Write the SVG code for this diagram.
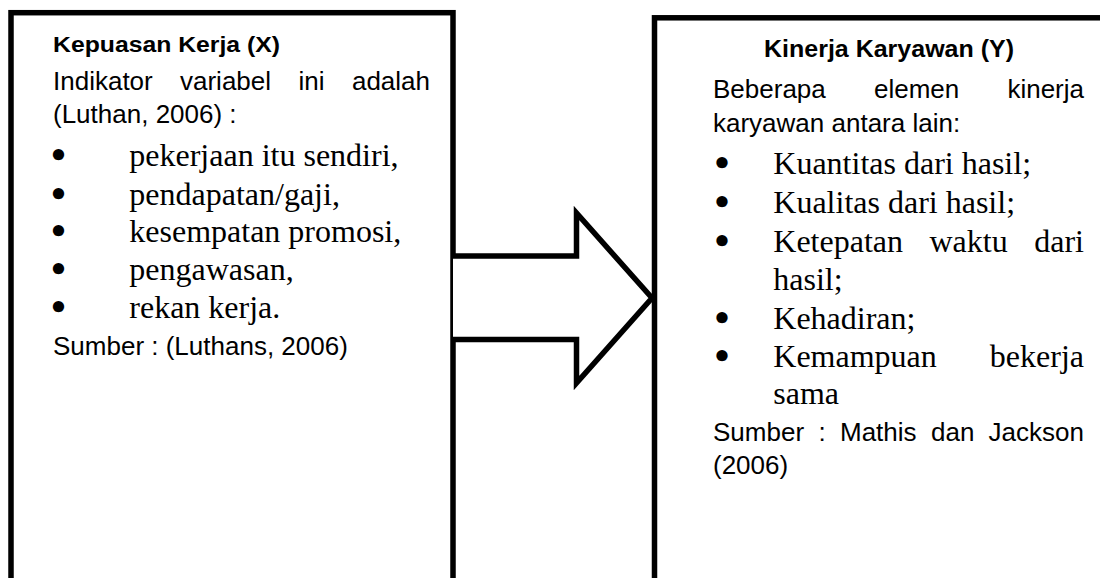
<svg xmlns="http://www.w3.org/2000/svg" width="1100" height="578" viewBox="0 0 1100 578">
<style>
.box{fill:#fff;stroke:#000;stroke-width:5.5}
.arrow{fill:#fff;stroke:#000;stroke-width:5.5;stroke-linejoin:miter;stroke-miterlimit:10}
.h{font-family:"Liberation Sans",Arial,sans-serif;font-weight:bold;font-size:22px;fill:#000}
.h2{font-family:"Liberation Sans",Arial,sans-serif;font-weight:bold;font-size:23px;fill:#000}
.t{font-family:"Liberation Sans",Arial,sans-serif;font-size:26px;fill:#000}
.s{font-family:"Liberation Serif","Times New Roman",serif;font-size:32px;fill:#000}
.b{font-family:"DejaVu Sans",sans-serif;font-size:32px;font-weight:bold;fill:#000;text-anchor:middle}
</style>
<rect width="1100" height="578" fill="#fff"/>
<g id="nodeX">
<rect class="box" x="11" y="12.7" width="442" height="620"/>
<text class="h" x="53" y="52" textLength="227" lengthAdjust="spacingAndGlyphs">Kepuasan Kerja (X)</text>
<text class="t" y="90"><tspan x="53">Indikator</tspan><tspan x="180">variabel</tspan><tspan x="298.5">ini</tspan></text>
<text class="t" x="430" y="90" text-anchor="end">adalah</text>
<text class="t" x="53" y="123">(Luthan, 2006) :</text>
<text class="b" x="58.5" y="167">•</text>
<text class="s" x="129.3" y="166">pekerjaan itu sendiri,</text>
<text class="b" x="58.5" y="205.5">•</text>
<text class="s" x="129.3" y="204.5">pendapatan/gaji,</text>
<text class="b" x="58.5" y="243">•</text>
<text class="s" x="129.3" y="242">kesempatan promosi,</text>
<text class="b" x="58.5" y="281">•</text>
<text class="s" x="129.3" y="280">pengawasan,</text>
<text class="b" x="58.5" y="319">•</text>
<text class="s" x="129.3" y="318">rekan kerja.</text>
<text class="t" x="53" y="355">Sumber : (Luthans, 2006)</text>
</g>
<g id="connectors">
<path class="arrow" d="M453,256 H576.5 V213 L652,298 L576.5,383 V339.5 H453"/>
</g>
<g id="nodeY">
<rect class="box" x="654.5" y="17.8" width="520" height="620"/>
<text class="h2" x="764" y="57" textLength="250" lengthAdjust="spacingAndGlyphs">Kinerja Karyawan (Y)</text>
<text class="t" y="98"><tspan x="713">Beberapa</tspan><tspan x="874">elemen</tspan></text>
<text class="t" x="1084" y="98" text-anchor="end">kinerja</text>
<text class="t" x="713" y="132">karyawan antara lain:</text>
<text class="b" x="722" y="175">•</text>
<text class="s" x="773.3" y="174">Kuantitas dari hasil;</text>
<text class="b" x="722" y="214">•</text>
<text class="s" x="773.3" y="213">Kualitas dari hasil;</text>
<text class="b" x="722" y="253">•</text>
<text class="s" y="252"><tspan x="773.3">Ketepatan</tspan><tspan x="929.5">waktu</tspan></text>
<text class="s" x="1084" y="252" text-anchor="end">dari</text>
<text class="s" x="773.3" y="290">hasil;</text>
<text class="b" x="722" y="330">•</text>
<text class="s" x="773.3" y="329">Kehadiran;</text>
<text class="b" x="722" y="368">•</text>
<text class="s" x="773.3" y="367">Kemampuan</text>
<text class="s" x="1084" y="367" text-anchor="end">bekerja</text>
<text class="s" x="773.3" y="404">sama</text>
<text class="t" y="441"><tspan x="713">Sumber</tspan><tspan x="818.4">:</tspan><tspan x="840">Mathis</tspan><tspan x="931">dan</tspan></text>
<text class="t" x="1084" y="441" text-anchor="end">Jackson</text>
<text class="t" x="713" y="474">(2006)</text>
</g>
</svg>
